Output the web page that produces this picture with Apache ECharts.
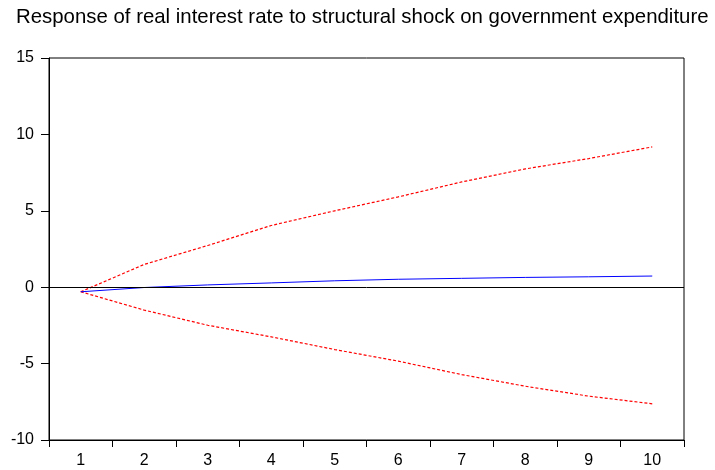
<!DOCTYPE html>
<html>
<head>
<meta charset="utf-8">
<script src="https://cdn.jsdelivr.net/npm/echarts@6/dist/echarts.min.js"></script>
<style>html,body{margin:0;padding:0;background:#fff}#c{width:715px;height:470px}</style>
</head>
<body>
<div id="c"></div>
<script>
var titleText = 'Response of real interest rate to structural shock on government expenditure';
var categories = ['1','2','3','4','5','6','7','8','9','10'];
var response = [-0.3, -0.02, 0.15, 0.28, 0.42, 0.52, 0.58, 0.64, 0.68, 0.73];
var upperBand = [-0.3, 1.49, 2.73, 4.04, 5.0, 5.91, 6.89, 7.74, 8.42, 9.18];
var lowerBand = [-0.3, -1.5, -2.49, -3.25, -4.08, -4.84, -5.72, -6.48, -7.13, -7.63];
var yTicks = [-10, -5, 0, 5, 10, 15];

var chart = echarts.init(document.getElementById('c'));
var font = 'Liberation Sans, Arial, sans-serif';
chart.setOption({
  animation: false,
  title: {
    text: titleText, left: 16, top: 7, padding: 0,
    textStyle: {fontFamily: font, fontSize: 20.4, fontWeight: 'normal', color: '#000'}
  },
  grid: {left: 49, right: 31, top: 58, bottom: 30, show: true, borderColor: '#000', borderWidth: 1, backgroundColor: 'transparent'},
  xAxis: {
    type: 'category', data: categories, boundaryGap: true,
    axisLine: {onZero: false, lineStyle: {color: '#000', width: 1}},
    axisTick: {show: true, length: 7, inside: false, lineStyle: {color: '#000'}},
    axisLabel: {color: '#000', fontFamily: font, fontSize: 16, margin: 13}
  },
  yAxis: {
    type: 'value', min: yTicks[0], max: yTicks[yTicks.length - 1], interval: 5,
    splitLine: {show: false},
    axisLine: {show: true, lineStyle: {color: '#000', width: 1}},
    axisTick: {show: true, length: 8, lineStyle: {color: '#000'}},
    axisLabel: {color: '#000', fontFamily: font, fontSize: 16, margin: 15}
  },
  series: [
    {
      type: 'line', data: upperBand, symbol: 'none',
      lineStyle: {color: '#ff0000', width: 1.2, type: [3, 2]}
    },
    {
      type: 'line', data: lowerBand, symbol: 'none',
      lineStyle: {color: '#ff0000', width: 1.2, type: [3, 2]}
    },
    {
      type: 'line', data: response, symbol: 'none', z: 3,
      lineStyle: {color: '#0000ff', width: 1},
      markLine: {
        silent: true, symbol: 'none', label: {show: false},
        lineStyle: {color: '#000', width: 1, type: 'solid'},
        data: [{yAxis: 0}]
      }
    }
  ]
});
</script>
</body>
</html>
